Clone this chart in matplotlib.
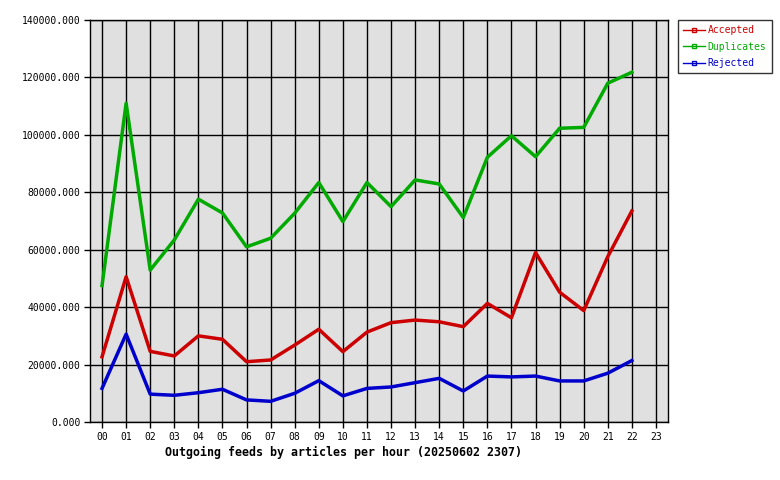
import numpy as np
import matplotlib
matplotlib.use("Agg")
import matplotlib.pyplot as plt

hours = ["%02d" % h for h in range(24)]

accepted = [22700, 50600, 24600, 23000, 30000, 28800, 21000, 21600, 26800, 32300,
            24500, 31300, 34600, 35500, 34900, 33200, 41300, 36300, 59000, 45200,
            38800, 57600, 73500]
duplicates = [47500, 111000, 52900, 63400, 77600, 72800, 61000, 64000, 72700, 83400,
              69800, 83400, 75000, 84300, 82900, 71200, 92200, 99700, 92400, 102300,
              102600, 118000, 121800]
rejected = [11700, 30600, 9700, 9300, 10200, 11400, 7700, 7200, 10000, 14400,
            9100, 11700, 12200, 13700, 15200, 10800, 16000, 15700, 16000, 14300,
            14300, 17000, 21400]

plt.rcParams["font.family"] = "DejaVu Sans Mono"

fig = plt.figure(figsize=(7.8, 4.8), dpi=100)
ax = fig.add_axes([90 / 780, 1 - 422 / 480, 578 / 780, 402 / 480])
ax.set_facecolor("#e0e0e0")

x = np.arange(len(accepted))
ax.plot(x, accepted, color="#cc0000", lw=2.5, label="Accepted")
ax.plot(x, duplicates, color="#00aa00", lw=2.5, label="Duplicates")
ax.plot(x, rejected, color="#0000cc", lw=2.5, label="Rejected")

ax.set_xlim(-0.5, 23.5)
ax.set_ylim(0, 140000)
ax.set_xticks(range(24))
ax.set_xticklabels(hours)
yt = np.arange(0, 140001, 20000)
ax.set_yticks(yt)
ax.set_yticklabels(["%.3f" % v for v in yt])
ax.grid(True, color="black", lw=1)
ax.set_axisbelow(True)
ax.tick_params(length=4, width=1, labelsize=7, pad=3)
for s in ax.spines.values():
    s.set_linewidth(1)

fig.text(165 / 780, 1 - 452 / 480, "Outgoing feeds by articles per hour (20250602 2307)",
         fontsize=8.4, fontweight="bold", ha="left", va="center")

handles = []
for c, lab in [("#cc0000", "Accepted"), ("#00aa00", "Duplicates"), ("#0000cc", "Rejected")]:
    h, = ax.plot([], [], color=c, lw=1, marker="s", ms=2.5, mfc="none", mec=c, label=lab)
    handles.append(h)
leg = fig.legend(handles=handles, loc="upper left", bbox_to_anchor=(678 / 780, 1 - 20 / 480),
                 fontsize=7, frameon=True, fancybox=False, edgecolor="black",
                 handlelength=2.2, handletextpad=0.3, borderpad=0.55, labelspacing=0.65,
                 numpoints=1, borderaxespad=0)
leg.get_frame().set_linewidth(1)
for t, h in zip(leg.get_texts(), handles):
    t.set_color(h.get_color())

fig.savefig("out.png", dpi=100)
